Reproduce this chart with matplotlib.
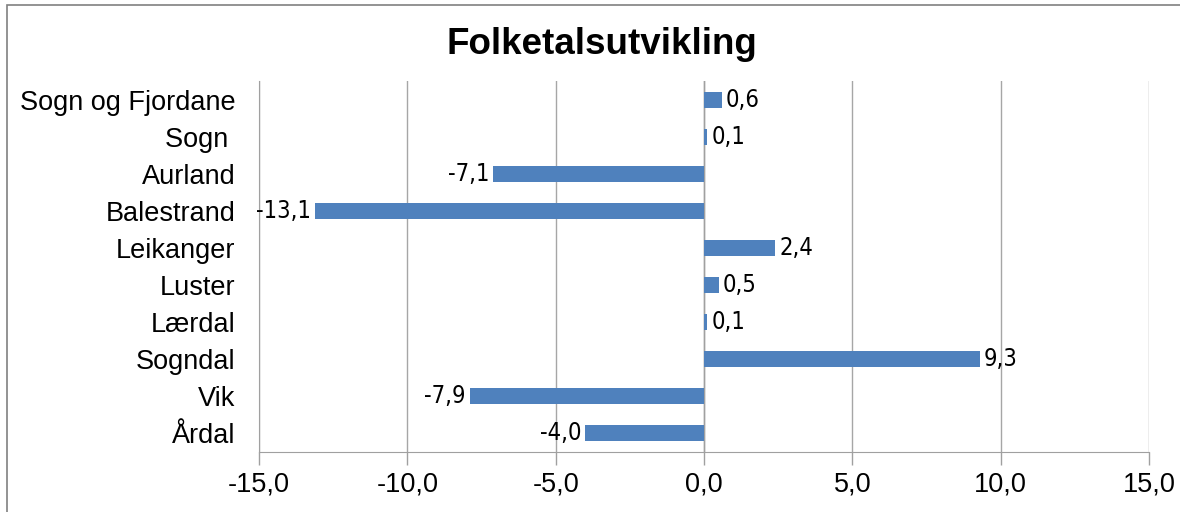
import matplotlib
matplotlib.use("Agg")
import matplotlib.pyplot as plt
from matplotlib.patches import Rectangle
from matplotlib import font_manager as fm

categories = ["Sogn og Fjordane", "Sogn ", "Aurland", "Balestrand", "Leikanger",
              "Luster", "Lærdal", "Sogndal", "Vik", "Årdal"]
values = [0.6, 0.1, -7.1, -13.1, 2.4, 0.5, 0.1, 9.3, -7.9, -4.0]
xticks = [-15, -10, -5, 0, 5, 10, 15]
title = "Folketalsutvikling"

plt.rcParams['font.family'] = ['Liberation Sans', 'DejaVu Sans']


def find_narrow():
    prefs = ['Liberation Sans Narrow', 'Arial Narrow', 'DejaVu Sans', 'Noto Sans',
             'Open Sans', 'Roboto', 'Lato', 'Inter']
    cands = []
    for f in fm.fontManager.ttflist:
        st = str(f.stretch).lower()
        nm = f.name
        fn = f.fname.lower()
        narrowish = ('narrow' in nm.lower() or 'condensed' in nm.lower()
                     or st in ('condensed', 'semi-condensed', 'extra-condensed', '300', '400', '500')
                     or ('condensed' in fn and 'semi' not in fn and 'extra' not in fn))
        if not narrowish:
            continue
        if f.style != 'normal':
            continue
        w = f.weight
        if w not in (400, 'normal', 'regular', 'book'):
            continue
        if 'mono' in nm.lower() or 'serif' in nm.lower() and 'sans' not in nm.lower():
            continue
        rank = len(prefs)
        for i, p in enumerate(prefs):
            if nm.startswith(p):
                rank = i
                break
        cands.append((rank, f.fname))
    if cands:
        cands.sort()
        return fm.FontProperties(fname=cands[0][1]), True
    return fm.FontProperties(family=['Liberation Sans', 'DejaVu Sans']), False


label_fp, is_narrow = find_narrow()
label_fp.set_size(17 if is_narrow else 15.5)

fig = plt.figure(figsize=(11.8, 5.12), dpi=100)
ax = fig.add_axes([259/1180, 1-452/512, (1149-259)/1180, (452-81)/512])

ypos = list(range(len(categories)))
ax.barh(ypos, values, height=0.43, color="#4F81BD", zorder=3)
ax.set_ylim(len(categories)-0.5, -0.5)
ax.set_xlim(-15, 15)
ax.set_xticks(xticks)
ax.set_xticklabels([f"{t:.1f}".replace(".", ",") for t in xticks], fontsize=19.5)
ax.set_yticks(ypos)
ax.set_yticklabels(categories, fontsize=19.5)
ax.tick_params(axis='y', length=0, pad=17)
ax.tick_params(axis='x', length=9, width=1, color="#A0A0A0", pad=5, direction='out')
ax.grid(axis='x', color="#A6A6A6", linewidth=1, zorder=1)
for s in ['top', 'right']:
    ax.spines[s].set_visible(False)
ax.spines['left'].set_color("#A0A0A0")
ax.spines['bottom'].set_color("#A0A0A0")
ax.axvline(0, color="#A0A0A0", linewidth=1, zorder=2)

for y, v in zip(ypos, values):
    lbl = f"{v:.1f}".replace(".", ",")
    if v >= 0:
        ax.annotate(lbl, (v, y), xytext=(3, 0), textcoords='offset points',
                    ha='left', va='center', fontproperties=label_fp, zorder=4)
    else:
        ax.annotate(lbl, (v, y), xytext=(-3, 0), textcoords='offset points',
                    ha='right', va='center', fontproperties=label_fp, zorder=4)

fig.text(602/1180, 1-45/512, title, ha='center', va='center', fontsize=26.5, fontweight='bold')

border = Rectangle((7/1180, -0.1), 1.2, 1-5/512+0.1, transform=fig.transFigure,
                   fill=False, edgecolor="#808080", linewidth=1.2)
fig.patches.append(border)

fig.savefig("out.png", dpi=100)
